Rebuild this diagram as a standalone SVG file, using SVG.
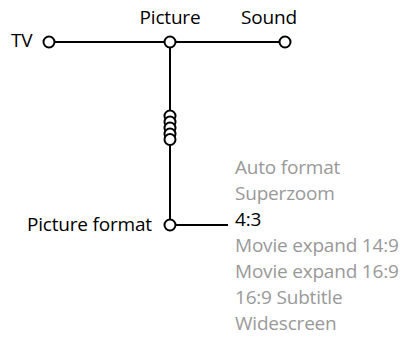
<svg xmlns="http://www.w3.org/2000/svg" width="401" height="337" viewBox="0 0 401 337">
<style>
text{font-family:"Open Sans","Liberation Sans",sans-serif;font-size:19px;letter-spacing:-0.2px;fill:#000}
.g{fill:#999}
.ln{stroke:#000;stroke-width:2;fill:none}
.nd{stroke:#000;stroke-width:2;fill:#fff}
</style>
<rect width="401" height="337" fill="#fff"/>
<g id="connectors">
<line class="ln" x1="49" y1="42" x2="285" y2="42"/>
<line class="ln" x1="170" y1="42" x2="170" y2="225"/>
<line class="ln" x1="170" y1="225" x2="228" y2="225"/>
</g>
<g id="coil">
<circle class="nd" cx="170" cy="116" r="5.5"/>
<circle class="nd" cx="170" cy="122" r="5.5"/>
<circle class="nd" cx="170" cy="128" r="5.5"/>
<circle class="nd" cx="170" cy="134" r="5.5"/>
<circle class="nd" cx="170" cy="139.5" r="5.5"/>
</g>
<g id="tv"><circle class="nd" cx="49" cy="42" r="5.5"/><text x="11" y="47">TV</text></g>
<g id="picture"><circle class="nd" cx="170" cy="42" r="5.5"/><text x="170" y="24" text-anchor="middle">Picture</text></g>
<g id="sound"><circle class="nd" cx="285" cy="42" r="5.5"/><text x="269" y="24" text-anchor="middle">Sound</text></g>
<g id="picture-format"><circle class="nd" cx="170" cy="225" r="5.5"/><text x="27" y="231">Picture format</text></g>
<g id="options">
<text class="g" x="235" y="174">Auto format</text>
<text class="g" x="235" y="200">Superzoom</text>
<text x="235" y="226">4:3</text>
<text class="g" x="235" y="252">Movie expand 14:9</text>
<text class="g" x="235" y="278">Movie expand 16:9</text>
<text class="g" x="235" y="304">16:9 Subtitle</text>
<text class="g" x="235" y="330">Widescreen</text>
</g>
</svg>
